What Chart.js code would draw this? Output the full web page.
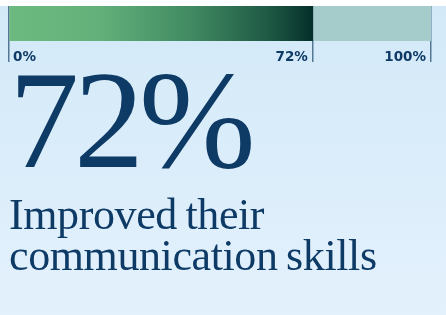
<!DOCTYPE html>
<html>
<head>
<meta charset="utf-8">
<script src="https://cdn.jsdelivr.net/npm/chart.js@4.4.0/dist/chart.umd.min.js"></script>
<style>
  html, body { margin: 0; padding: 0; }
  body {
    width: 446px; height: 315px; overflow: hidden; position: relative;
    background: linear-gradient(to bottom, #ffffff 0px, #ffffff 6px, #d3e9f8 6px, #e3f1fc 315px);
  }
  #wrap { position: absolute; left: 0; top: 0; width: 446px; height: 66px; }
  #big {
    position: absolute; left: 9px; top: 50px; margin: 0;
    font-family: "Liberation Serif", serif; font-size: 140px; line-height: 140px;
    color: #0e3a66; letter-spacing: -5px; font-weight: normal;
  }
  #caption {
    position: absolute; left: 9px; top: 194px; margin: 0;
    font-family: "Liberation Serif", serif; font-size: 44px; line-height: 41px;
    color: #0e3a66; letter-spacing: -0.4px; word-spacing: -2px;
  }
</style>
</head>
<body>
<div id="wrap"><canvas id="barra"></canvas></div>
<p id="big">72%</p>
<p id="caption">Improved their<br>communication skills</p>
<script>
const categories = ["Communication skills"];
const improved = [72];
const remaining = [28];
const tickValues = [0, 72, 100];
const tickLabels = ["0%", "72%", "100%"];

// gradient for the filled part, from 0 to 72
function greenGradient(context) {
  const chart = context.chart;
  const area = chart.chartArea;
  if (!area) return "#4e9d6d";
  const x = chart.scales.x;
  const g = chart.ctx.createLinearGradient(x.getPixelForValue(0), 0, x.getPixelForValue(improved[0]), 0);
  g.addColorStop(0, "#6dba80");
  g.addColorStop(0.3, "#63b07a");
  g.addColorStop(0.6, "#418a62");
  g.addColorStop(0.85, "#1f5a45");
  g.addColorStop(1, "#05302a");
  return g;
}

const tickText = {
  id: "tickText",
  afterDraw(chart) {
    const ctx = chart.ctx;
    const x = chart.scales.x;
    ctx.save();
    ctx.font = "bold 13.5px 'DejaVu Sans'";
    ctx.fillStyle = "#0e3a66";
    ctx.textBaseline = "alphabetic";
    tickValues.forEach((v, i) => {
      const px = x.getPixelForValue(v);
      if (i === 0) {
        ctx.textAlign = "left";
        ctx.fillText(tickLabels[i], px + 4, 61);
      } else {
        ctx.textAlign = "right";
        ctx.fillText(tickLabels[i], px - 5, 61);
      }
    });
    ctx.restore();
  },
};

let barra = new Chart(document.getElementById("barra"), {
  type: "bar",
  data: {
    labels: categories,
    datasets: [
      {
        data: improved,
        backgroundColor: greenGradient,
        borderWidth: 0,
      },
      {
        data: remaining,
        backgroundColor: "#a5cbcb",
        borderWidth: 0,
      },
    ],
  },
  options: {
    indexAxis: "y",
    responsive: true,
    maintainAspectRatio: false,
    animation: false,
    barPercentage: 1,
    categoryPercentage: 1,
    layout: { padding: { top: 6, left: 9, right: 15, bottom: 4 } },
    plugins: {
      legend: { display: false },
      tooltip: { enabled: false },
    },
    scales: {
      x: {
        stacked: true,
        min: 0,
        max: 100,
        z: 1,
        afterBuildTicks: (scale) => {
          scale.ticks = tickValues.map((v) => ({ value: v }));
        },
        ticks: { display: false },
        grid: {
          color: "rgba(40,80,115,0.75)",
          lineWidth: 1.5,
          tickLength: 21,
          drawOnChartArea: true,
        },
        border: { display: false },
      },
      y: {
        stacked: true,
        display: false,
      },
    },
  },
  plugins: [tickText],
});
</script>
</body>
</html>
